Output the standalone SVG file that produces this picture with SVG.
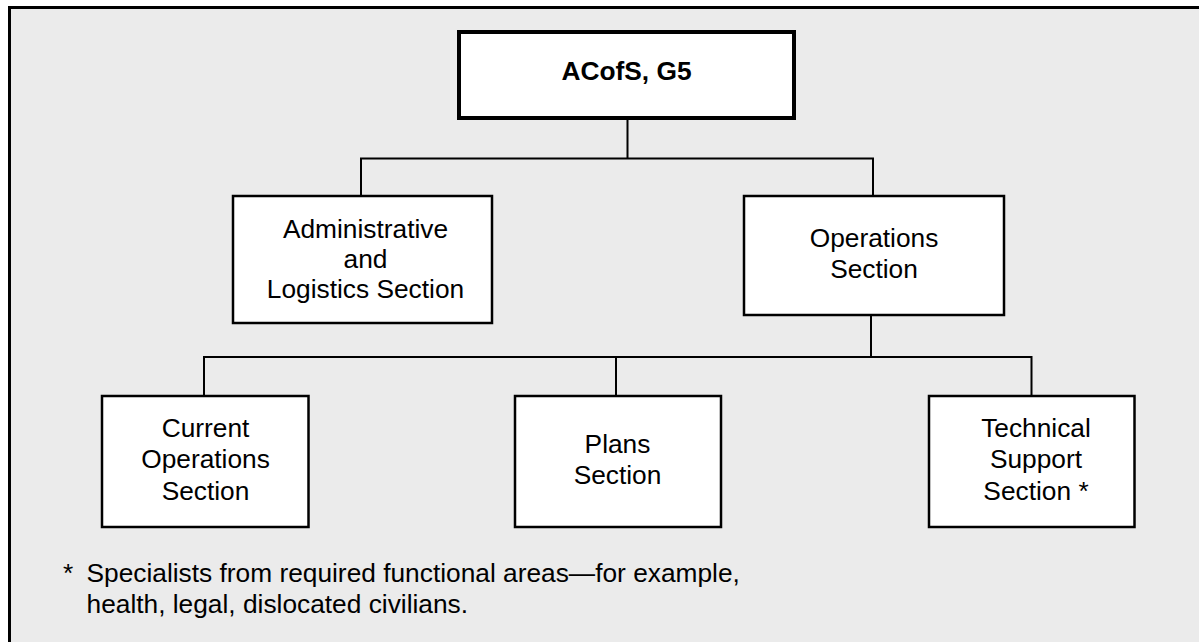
<svg xmlns="http://www.w3.org/2000/svg" width="1199" height="642" viewBox="0 0 1199 642">
<style>
.box{fill:#fff;stroke:#000;stroke-width:2.5}
.top{fill:#fff;stroke:#000;stroke-width:4}
.lbl{font-family:"Liberation Sans",Arial,sans-serif;font-size:26.3px;fill:#000;text-anchor:middle}
.note{font-family:"Liberation Sans",Arial,sans-serif;font-size:26.3px;fill:#000}
.conn{fill:none;stroke:#000;stroke-width:2}
</style>
<rect x="0" y="0" width="1199" height="642" fill="#fff"/>
<rect x="9.5" y="7.5" width="1200" height="660" fill="#ebebeb" stroke="#000" stroke-width="3"/>
<g id="connectors">
<path class="conn" d="M627.5,118 V158.5 M361,196 V158.5 H873 V196"/>
<path class="conn" d="M871,315 V357 M204,396 V357 H1031.5 V396 M616,357 V396"/>
</g>
<g id="acofs">
<rect class="top" x="459" y="32" width="335" height="86"/>
<text class="lbl" x="626.5" y="79.5" font-weight="bold">ACofS, G5</text>
</g>
<g id="admin">
<rect class="box" x="233" y="196" width="259" height="127"/>
<text class="lbl" x="365.5" y="237.5">Administrative</text>
<text class="lbl" x="365.5" y="268">and</text>
<text class="lbl" x="365.5" y="298">Logistics Section</text>
</g>
<g id="ops">
<rect class="box" x="744" y="196" width="260" height="119"/>
<text class="lbl" x="874" y="247">Operations</text>
<text class="lbl" x="874" y="278">Section</text>
</g>
<g id="current">
<rect class="box" x="102" y="396" width="206.5" height="131"/>
<text class="lbl" x="205.5" y="437">Current</text>
<text class="lbl" x="205.5" y="468">Operations</text>
<text class="lbl" x="205.5" y="500">Section</text>
</g>
<g id="plans">
<rect class="box" x="515" y="396" width="206" height="131"/>
<text class="lbl" x="617.5" y="453">Plans</text>
<text class="lbl" x="617.5" y="484">Section</text>
</g>
<g id="tech">
<rect class="box" x="929" y="396" width="205.5" height="131"/>
<text class="lbl" x="1036" y="437">Technical</text>
<text class="lbl" x="1036" y="468">Support</text>
<text class="lbl" x="1036" y="500">Section *</text>
</g>
<g id="footnote">
<text class="note" x="63" y="582">*</text>
<text class="note" x="86.5" y="582">Specialists from required functional areas—for example,</text>
<text class="note" x="86.5" y="612.5">health, legal, dislocated civilians.</text>
</g>
</svg>
